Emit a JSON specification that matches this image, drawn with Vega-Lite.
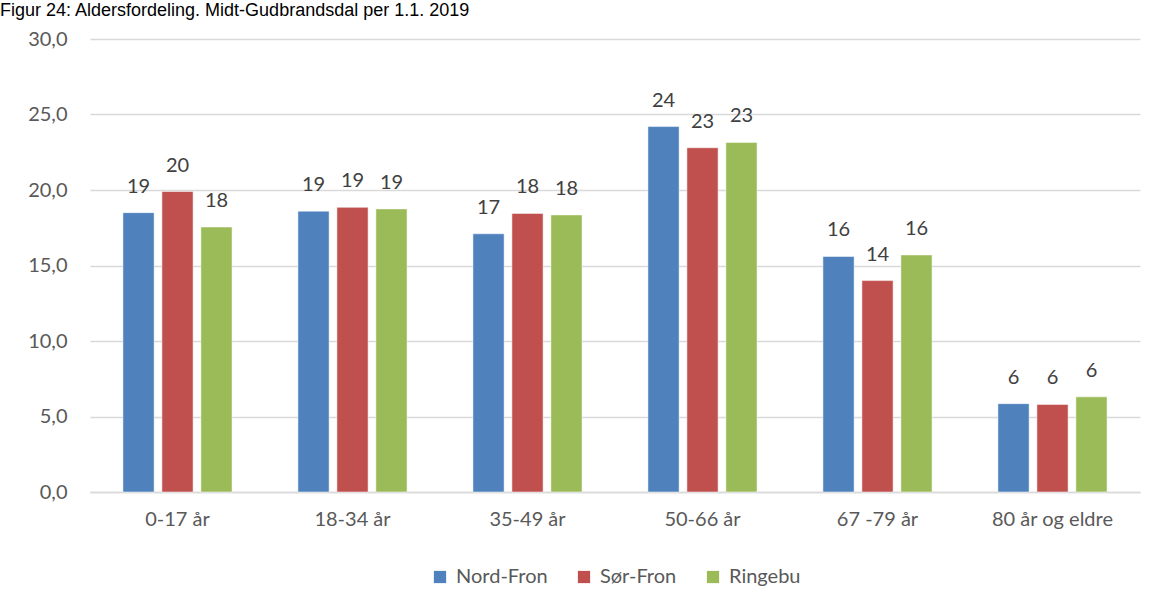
{
  "$schema": "https://vega.github.io/schema/vega-lite/v6.json",
  "width": 1050,
  "height": 453,
  "autosize": {"type": "none"},
  "padding": {"left": 90, "top": 39, "right": 16, "bottom": 115},
  "background": "white",
  "config": {
    "view": {"stroke": null},
    "legend": {"layout": {"bottom": {"anchor": "middle"}}}
  },
  "title": {
    "text": "Figur 24: Aldersfordeling. Midt-Gudbrandsdal per 1.1. 2019",
    "anchor": "start",
    "frame": "group",
    "dx": -90,
    "dy": 9,
    "offset": 4,
    "baseline": "alphabetic",
    "font": "Liberation Sans",
    "fontSize": 18,
    "fontWeight": "normal",
    "color": "#000000"
  },
  "data": {
    "values": [
      {"gruppe": "0-17 år", "kommune": "Nord-Fron", "andel": 18.5},
      {"gruppe": "0-17 år", "kommune": "Sør-Fron", "andel": 19.9},
      {"gruppe": "0-17 år", "kommune": "Ringebu", "andel": 17.55},
      {"gruppe": "18-34 år", "kommune": "Nord-Fron", "andel": 18.6},
      {"gruppe": "18-34 år", "kommune": "Sør-Fron", "andel": 18.85},
      {"gruppe": "18-34 år", "kommune": "Ringebu", "andel": 18.75},
      {"gruppe": "35-49 år", "kommune": "Nord-Fron", "andel": 17.1},
      {"gruppe": "35-49 år", "kommune": "Sør-Fron", "andel": 18.45},
      {"gruppe": "35-49 år", "kommune": "Ringebu", "andel": 18.35},
      {"gruppe": "50-66 år", "kommune": "Nord-Fron", "andel": 24.2},
      {"gruppe": "50-66 år", "kommune": "Sør-Fron", "andel": 22.8},
      {"gruppe": "50-66 år", "kommune": "Ringebu", "andel": 23.15},
      {"gruppe": "67 -79 år", "kommune": "Nord-Fron", "andel": 15.6},
      {"gruppe": "67 -79 år", "kommune": "Sør-Fron", "andel": 14.0},
      {"gruppe": "67 -79 år", "kommune": "Ringebu", "andel": 15.7},
      {"gruppe": "80 år og eldre", "kommune": "Nord-Fron", "andel": 5.85},
      {"gruppe": "80 år og eldre", "kommune": "Sør-Fron", "andel": 5.8},
      {"gruppe": "80 år og eldre", "kommune": "Ringebu", "andel": 6.3}
    ]
  },
  "encoding": {
    "x": {
      "field": "gruppe",
      "type": "nominal",
      "sort": null,
      "scale": {"paddingInner": 0, "paddingOuter": 0},
      "axis": {
        "title": null,
        "labelAngle": 0,
        "labelFont": "Lato",
        "labelFontSize": 20,
        "labelColor": "#595959",
        "labelPadding": 17,
        "ticks": false,
        "domainColor": "#d9d9d9",
        "domainWidth": 1.5,
        "grid": false
      }
    },
    "xOffset": {
      "field": "kommune",
      "type": "nominal",
      "sort": ["Nord-Fron", "Sør-Fron", "Ringebu"],
      "scale": {"paddingInner": 0.2, "paddingOuter": 0.845}
    },
    "y": {
      "field": "andel",
      "type": "quantitative",
      "scale": {"domain": [0, 30], "nice": false},
      "axis": {
        "title": null,
        "values": [0, 5, 10, 15, 20, 25, 30],
        "labelExpr": "replace(format(datum.value, '.1f'), '.', ',')",
        "labelFont": "Lato",
        "labelFontSize": 20,
        "labelColor": "#595959",
        "labelPadding": 23,
        "ticks": false,
        "domain": false,
        "gridColor": "#d9d9d9",
        "gridWidth": 1.5
      }
    }
  },
  "layer": [
    {
      "mark": {"type": "bar", "stroke": "white", "strokeWidth": 0.5},
      "encoding": {
        "color": {
          "field": "kommune",
          "type": "nominal",
          "sort": ["Nord-Fron", "Sør-Fron", "Ringebu"],
          "scale": {
            "domain": ["Nord-Fron", "Sør-Fron", "Ringebu"],
            "range": ["#4F81BD", "#C0504D", "#9BBB59"]
          },
          "legend": {
            "title": null,
            "orient": "bottom",
            "direction": "horizontal",
            "symbolType": "square",
            "symbolSize": 150,
            "symbolStrokeWidth": 0,
            "labelFont": "Lato",
            "labelFontSize": 20,
            "labelColor": "#595959",
            "labelOffset": 6,
            "columnPadding": 26,
            "offset": 38
          }
        }
      }
    },
    {
      "mark": {
        "type": "text",
        "baseline": "alphabetic",
        "dy": -20,
        "font": "Lato",
        "fontSize": 20,
        "color": "#404040"
      },
      "encoding": {
        "text": {"field": "andel", "type": "quantitative", "format": ".0f"}
      }
    }
  ]
}
